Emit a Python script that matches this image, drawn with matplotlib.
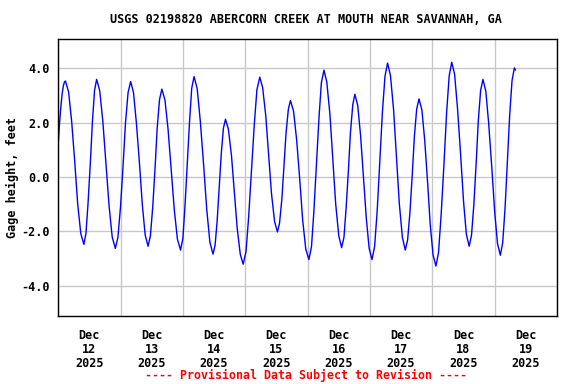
import pandas as pd
import matplotlib
matplotlib.use('Agg')
import matplotlib.pyplot as plt
import matplotlib.dates as mdates

# Gage height readings, hours after 2025-12-12 00:00
hours = [
    0.0, 0.5, 1.0, 1.5, 2.0, 2.4, 2.8,
    4.0, 5.2, 6.4, 7.5, 8.7, 9.9,
    10.7, 11.5, 12.4, 13.2, 14.0, 14.8,
    16.0, 17.2, 18.4, 19.6, 20.8, 22.0,
    23.0, 24.0, 25.0, 25.9, 26.9, 27.9,
    29.0, 30.1, 31.3, 32.4, 33.5, 34.6,
    35.5, 36.4, 37.3, 38.1, 39.0, 39.9,
    41.1, 42.3, 43.5, 44.7, 45.9, 47.1,
    48.0, 48.8, 49.7, 50.6, 51.4, 52.3,
    53.5, 54.7, 56.0, 57.2, 58.4, 59.6,
    60.4, 61.2, 62.0, 62.8, 63.6, 64.4,
    65.5, 66.7, 67.8, 68.9, 70.1, 71.2,
    72.3, 73.3, 74.4, 75.5, 76.5, 77.6,
    78.7, 79.9, 81.0, 82.1, 83.3, 84.4,
    85.2, 86.1, 86.9, 87.7, 88.6, 89.4,
    90.6, 91.8, 93.0, 94.1, 95.3, 96.5,
    97.5, 98.4, 99.4, 100.4, 101.3, 102.3,
    103.4, 104.6, 105.7, 106.8, 108.0, 109.1,
    110.0, 110.8, 111.7, 112.5, 113.4, 114.2,
    115.3, 116.4, 117.5, 118.6, 119.7, 120.8,
    121.8, 122.8, 123.8, 124.8, 125.8, 126.8,
    127.9, 129.1, 130.2, 131.3, 132.5, 133.6,
    134.5, 135.4, 136.3, 137.1, 138.0, 138.9,
    140.0, 141.1, 142.2, 143.2, 144.3, 145.4,
    146.4, 147.4, 148.5, 149.5, 150.5, 151.5,
    152.6, 153.7, 154.9, 156.0, 157.1, 158.2,
    159.1, 160.0, 160.9, 161.7, 162.6, 163.5,
    164.6, 165.7, 166.9, 168.0, 169.1, 170.2,
    171.1, 172.0, 172.9, 173.8, 174.7, 175.6, 176.0,
]
gage_ft = [
    1.18, 1.95, 2.55, 3.05, 3.36, 3.50, 3.54,
    3.14, 2.04, 0.53, -0.98, -2.08, -2.48,
    -2.07, -0.96, 0.56, 2.08, 3.19, 3.60,
    3.18, 2.04, 0.49, -1.07, -2.21, -2.63,
    -2.22, -1.09, 0.45, 1.98, 3.11, 3.52,
    3.11, 2.00, 0.49, -1.03, -2.14, -2.55,
    -2.16, -1.10, 0.35, 1.79, 2.85, 3.24,
    2.84, 1.76, 0.28, -1.21, -2.29, -2.69,
    -2.26, -1.09, 0.51, 2.10, 3.27, 3.70,
    3.26, 2.07, 0.43, -1.21, -2.40, -2.84,
    -2.51, -1.60, -0.36, 0.89, 1.80, 2.13,
    1.77, 0.80, -0.54, -1.88, -2.85, -3.21,
    -2.75, -1.49, 0.24, 1.96, 3.22, 3.68,
    3.30, 2.26, 0.83, -0.60, -1.64, -2.02,
    -1.70, -0.81, 0.40, 1.61, 2.50, 2.82,
    2.43, 1.36, -0.11, -1.58, -2.65, -3.04,
    -2.57, -1.30, 0.45, 2.20, 3.47, 3.94,
    3.50, 2.31, 0.67, -0.97, -2.16, -2.60,
    -2.22, -1.19, 0.23, 1.64, 2.67, 3.05,
    2.64, 1.53, 0.01, -1.52, -2.63, -3.04,
    -2.56, -1.23, 0.58, 2.39, 3.72, 4.20,
    3.74, 2.48, 0.76, -0.97, -2.23, -2.69,
    -2.32, -1.30, 0.10, 1.49, 2.51, 2.88,
    2.47, 1.34, -0.20, -1.74, -2.87, -3.28,
    -2.78, -1.40, 0.48, 2.35, 3.73, 4.23,
    3.78, 2.54, 0.84, -0.86, -2.10, -2.55,
    -2.14, -1.01, 0.53, 2.06, 3.19, 3.60,
    3.17, 1.98, 0.36, -1.26, -2.45, -2.88,
    -2.42, -1.16, 0.57, 2.30, 3.56, 4.02, 3.95,
]
y_ticks = [-4.0, -2.0, 0.0, 2.0, 4.0]

start = pd.Timestamp('2025-12-12 00:00')
times = start + pd.to_timedelta(hours, unit='h')

plt.rcParams['axes.unicode_minus'] = False
font = {'family': 'DejaVu Sans Mono', 'weight': 'bold'}

fig = plt.figure(figsize=(5.76, 3.84), dpi=100)
ax = fig.add_axes([0.101, 0.177, 0.866, 0.721])

ax.plot(times, gage_ft, color='#0000ff', lw=1.0)

ax.set_xlim(start, start + pd.Timedelta(days=8))
ax.set_ylim(-5.12, 5.08)

# midnight gridlines, labels at noon
ax.xaxis.set_major_locator(mdates.DayLocator())
ax.xaxis.set_major_formatter(plt.NullFormatter())
ax.xaxis.set_minor_locator(mdates.HourLocator(byhour=[12]))
ax.xaxis.set_minor_formatter(mdates.DateFormatter('%b\n%d\n%Y'))
ax.set_yticks(y_ticks)
ax.set_yticklabels(['%.1f' % v for v in y_ticks])

ax.grid(True, which='major', color='#c8c8c8', lw=1.0)
ax.tick_params(axis='both', which='both', length=0)
ax.tick_params(axis='x', which='minor', pad=9)
ax.tick_params(axis='y', pad=6)
for lab in ax.get_xticklabels(minor=True) + ax.get_yticklabels():
    lab.set_fontfamily('DejaVu Sans Mono')
    lab.set_fontweight('bold')
    lab.set_fontsize(8.5)
    lab.set_linespacing(1.1)
for sp in ax.spines.values():
    sp.set_color('black')
    sp.set_linewidth(1.0)

ax.set_ylabel('Gage height, feet', fontsize=8.5, labelpad=2, **font)
fig.text(0.532, 0.95, 'USGS 02198820 ABERCORN CREEK AT MOUTH NEAR SAVANNAH, GA',
         ha='center', va='center', fontsize=8.5, **font)
fig.text(0.532, 0.023, '---- Provisional Data Subject to Revision ----',
         ha='center', va='center', fontsize=8.4, color='#ff0000', **font)

fig.savefig('out.png', dpi=100)
